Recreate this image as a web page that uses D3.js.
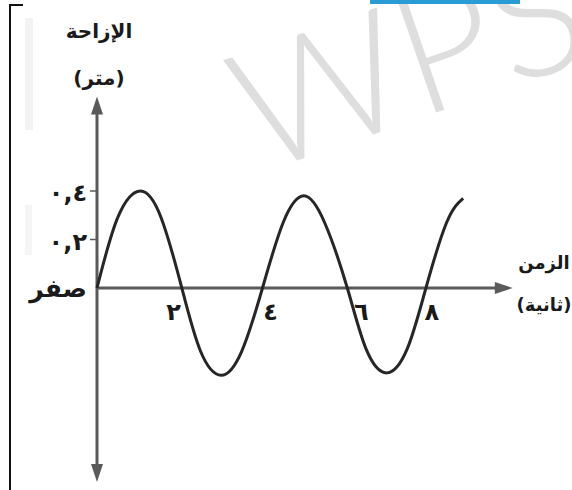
<!DOCTYPE html>
<html>
<head>
<meta charset="utf-8">
<script src="https://cdn.jsdelivr.net/npm/d3@7"></script>
<style>
  body { margin: 0; background: #fff; }
  svg { display: block; }
  .ar { font-family: 'DejaVu Sans', sans-serif; font-weight: bold; fill: #1a1a1a; }
</style>
</head>
<body>
<svg width="572" height="490"></svg>
<script>
// Values: time (s) against displacement (m)
var timeVals = [0, 0.5, 1.05, 1.55, 2.05, 2.5, 3.0, 3.5, 4.0, 4.5, 5.0, 5.5, 6.05, 6.5, 7.0, 7.5, 7.95, 8.45, 8.85];
var dispVals = [0, 0.29, 0.40, 0.29, 0, -0.26, -0.36, -0.26, 0, 0.27, 0.38, 0.27, 0, -0.25, -0.35, -0.25, 0, 0.27, 0.37];

// tick labels
var xTicks = [2, 4, 6, 8];
var xTickLabels = ['٢', '٤', '٦', '٨'];
var yTicks = [0.4, 0.2];
var yTickLabels = ['٠,٤', '٠,٢'];
var zeroLabel = 'صفر';
var yTitle = ['الإزاحة', '(متر)'];
var xTitle = ['الزمن', '(ثانية)'];

var svg = d3.select('svg');

// scales
var xScale = d3.scaleLinear().domain([0, 8]).range([97, 428]);
var yScale = d3.scaleLinear().domain([0, 0.4]).range([288, 191]);

// centre a text on cx whatever its writing direction
function centreAt(sel, cx) {
    sel.each(function() {
        var b = this.getBBox();
        var x = +d3.select(this).attr('x');
        d3.select(this).attr('x', x + cx - (b.x + b.width / 2));
    });
}

// watermark + page scraps
svg.append('text')
    .attr('transform', 'translate(258,174) rotate(-19)')
    .attr('font-family', 'Lato, sans-serif')
    .attr('font-weight', 300)
    .attr('font-size', 168)
    .attr('fill', '#dedede')
    .text('WPS');
svg.append('rect').attr('x', 370).attr('y', 0).attr('width', 150).attr('height', 4).attr('fill', '#2a9bd4');
svg.append('rect').attr('x', 25).attr('y', 18).attr('width', 8).attr('height', 112).attr('fill', '#f3f3f3');
svg.append('rect').attr('x', 25).attr('y', 205).attr('width', 7).attr('height', 50).attr('fill', '#f5f5f5');
svg.append('path')
    .attr('d', 'M23,5H10V490')
    .attr('fill', 'none')
    .attr('stroke', '#111')
    .attr('stroke-width', 2);

// axes with arrow heads
var axisColor = '#5a5a5a';
var yTop = 0.79, yBottom = -0.8, xEnd = 10.05;
var x0 = xScale(0), y0 = yScale(0);

svg.append('line')
    .attr('x1', x0).attr('x2', x0)
    .attr('y1', yScale(yTop) + 12).attr('y2', yScale(yBottom) - 12)
    .attr('stroke', axisColor).attr('stroke-width', 3);
svg.append('line')
    .attr('x1', x0).attr('x2', xScale(xEnd) - 14)
    .attr('y1', y0).attr('y2', y0)
    .attr('stroke', axisColor).attr('stroke-width', 3);

function arrow(tx, ty, angle) {
    svg.append('path')
        .attr('d', 'M0,0L-18,-6L-18,6Z')
        .attr('transform', 'translate(' + [tx, ty] + ') rotate(' + angle + ')')
        .attr('fill', axisColor);
}
arrow(xScale(xEnd), y0, 0);
arrow(x0, yScale(yTop), -90);
arrow(x0, yScale(yBottom), 90);

// y ticks
svg.selectAll('.ytick')
    .data(yTicks)
    .enter().append('line')
    .attr('class', 'ytick')
    .attr('x1', x0 - 7).attr('x2', x0)
    .attr('y1', d => yScale(d)).attr('y2', d => yScale(d))
    .attr('stroke', axisColor).attr('stroke-width', 1.5);

svg.selectAll('.ylab')
    .data(yTicks)
    .enter().append('text')
    .attr('class', 'ar ylab')
    .attr('x', 0)
    .attr('y', d => yScale(d) + 10)
    .attr('font-size', 24)
    .attr('direction', 'ltr')
    .text((d, i) => yTickLabels[i])
    .call(centreAt, 68);

svg.append('text')
    .attr('class', 'ar')
    .attr('x', 0).attr('y', y0 + 9)
    .attr('font-size', 25)
    .text(zeroLabel)
    .call(centreAt, 57);

// x tick labels
var xOffsets = [-6, 8, 16, 4];
svg.selectAll('.xlab')
    .data(xTicks)
    .enter().append('text')
    .attr('class', 'ar xlab')
    .attr('x', 0)
    .attr('y', y0 + 32)
    .attr('font-size', 24)
    .text((d, i) => xTickLabels[i])
    .each(function(d, i) { d3.select(this).call(centreAt, xScale(d) + xOffsets[i]); });

// axis titles
svg.selectAll('.ytitle')
    .data(yTitle)
    .enter().append('text')
    .attr('class', 'ar ytitle')
    .attr('x', 0)
    .attr('y', (d, i) => 38 + i * 47)
    .attr('font-size', 20)
    .text(d => d)
    .call(centreAt, 99);

svg.selectAll('.xtitle')
    .data(xTitle)
    .enter().append('text')
    .attr('class', 'ar xtitle')
    .attr('x', 0)
    .attr('y', (d, i) => 269 + i * 42)
    .attr('font-size', 18)
    .text(d => d)
    .call(centreAt, 544);

// the wave
var points = timeVals.map((t, i) => ({t: t, d: dispVals[i]}));
var line = d3.line()
    .x(d => xScale(d.t))
    .y(d => yScale(d.d))
    .curve(d3.curveNatural);

svg.append('path')
    .datum(points)
    .attr('d', line)
    .attr('fill', 'none')
    .attr('stroke', '#262626')
    .attr('stroke-width', 3);
</script>
</body>
</html>
